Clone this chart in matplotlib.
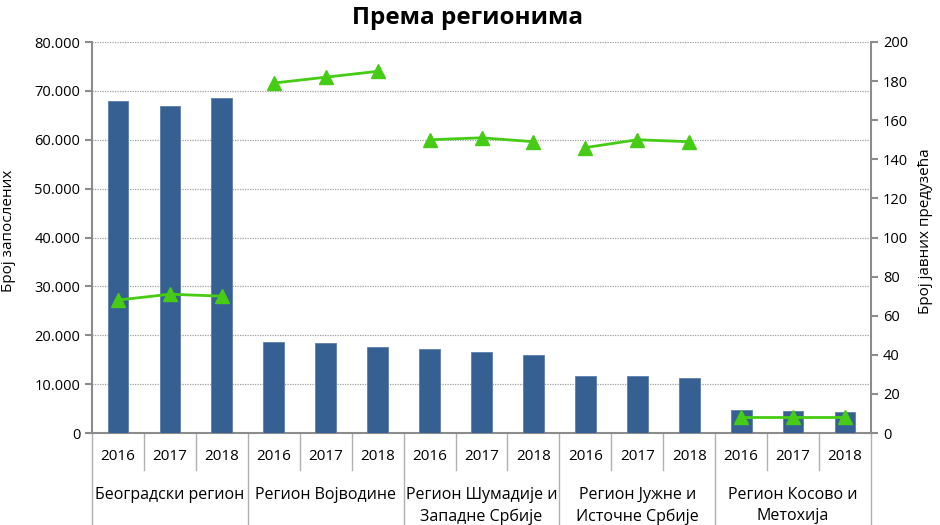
import numpy as np
import matplotlib
matplotlib.use("Agg")
import matplotlib.pyplot as plt
from matplotlib.ticker import FuncFormatter
import matplotlib.transforms as mtrans

plt.rcParams['font.family'] = ['Open Sans', 'DejaVu Sans']

# data
regions = ['Београдски регион', 'Регион Војводине', 'Регион Шумадије и\nЗападне Србије',
           'Регион Јужне и\nИсточне Србије', 'Регион Косово и\nМетохија']
years = ['2016', '2017', '2018']
employees = [[67900, 66900, 68500],
             [18600, 18400, 17600],
             [17200, 16600, 15900],
             [11700, 11600, 11200],
             [4700, 4500, 4200]]
companies = [[68, 71, 70],
             [179, 182, 185],
             [150, 151, 149],
             [146, 150, 149],
             [8, 8, 8]]

bar_col = '#376092'
line_col = '#46CC14'
axis_col = '#8c8c8c'

fig = plt.figure(figsize=(9.4, 5.25), dpi=100)
ax = fig.add_axes([0.0979, 0.1752, 0.8287, 0.7448])
ax2 = ax.twinx()

n = len(years)
x = np.arange(len(regions) * n)
ax.bar(x, np.ravel(employees), width=0.4, color=bar_col, edgecolor='#5b7fae', linewidth=0.6, zorder=3)
for i, vals in enumerate(companies):
    xs = x[i*n:(i+1)*n]
    ax2.plot(xs, vals, color=line_col, lw=2, marker='^', ms=10, zorder=4)

ax.set_xlim(-0.5, len(x) - 0.5)
ax.set_ylim(0, 80000)
ax.set_yticks(np.arange(0, 80001, 10000))
ax.yaxis.set_major_formatter(FuncFormatter(lambda v, p: f'{int(v):,}'.replace(',', '.')))
ax2.set_ylim(0, 200)
ax2.set_yticks(np.arange(0, 201, 20))

ax.grid(axis='y', linestyle=(0, (1, 1)), color='#a0a0a0', lw=0.9, zorder=0)
ax.set_xticks([])
for a in (ax, ax2):
    for s in a.spines.values():
        s.set_visible(False)
    a.tick_params(axis='y', colors=axis_col, labelcolor='black', labelsize=10.5, length=5, width=1.5)
ax.spines['left'].set_visible(True)
ax.spines['left'].set_color(axis_col)
ax.spines['left'].set_linewidth(1.5)
ax2.spines['right'].set_visible(True)
ax2.spines['right'].set_color(axis_col)
ax2.spines['right'].set_linewidth(1.5)
ax.spines['bottom'].set_visible(True)
ax.spines['bottom'].set_color(axis_col)
ax.spines['bottom'].set_linewidth(1.5)
ax.set_zorder(ax2.get_zorder() - 1)
ax.patch.set_visible(False)

# two-level category axis
tr = mtrans.blended_transform_factory(ax.transData, ax.transAxes)
for i, reg in enumerate(regions):
    for j, yr in enumerate(years):
        ax.text(i*n + j, -0.059, yr, transform=tr, ha='center', va='center', fontsize=11)
    ax.text(i*n + 1, -0.137, reg, transform=tr, ha='center', va='top', fontsize=11.5, linespacing=1.45)
for k in range(len(x) + 1):
    xb = k - 0.5
    if k % n == 0:
        ax.plot([xb, xb], [0, -0.24], transform=tr, color='#b0b0b0', lw=1, clip_on=False)
    else:
        ax.plot([xb, xb], [0, -0.095], transform=tr, color='#b0b0b0', lw=1, clip_on=False)

fig.text(0.497, 0.965, 'Према регионима', ha='center', va='center', fontsize=17.5, fontweight='bold')
fig.text(0.009, 0.56, 'Број запослених', rotation=90, ha='center', va='center', fontsize=11)
fig.text(0.985, 0.56, 'Број јавних предузећа', rotation=90, ha='center', va='center', fontsize=11)

fig.savefig('out.png', dpi=100)
